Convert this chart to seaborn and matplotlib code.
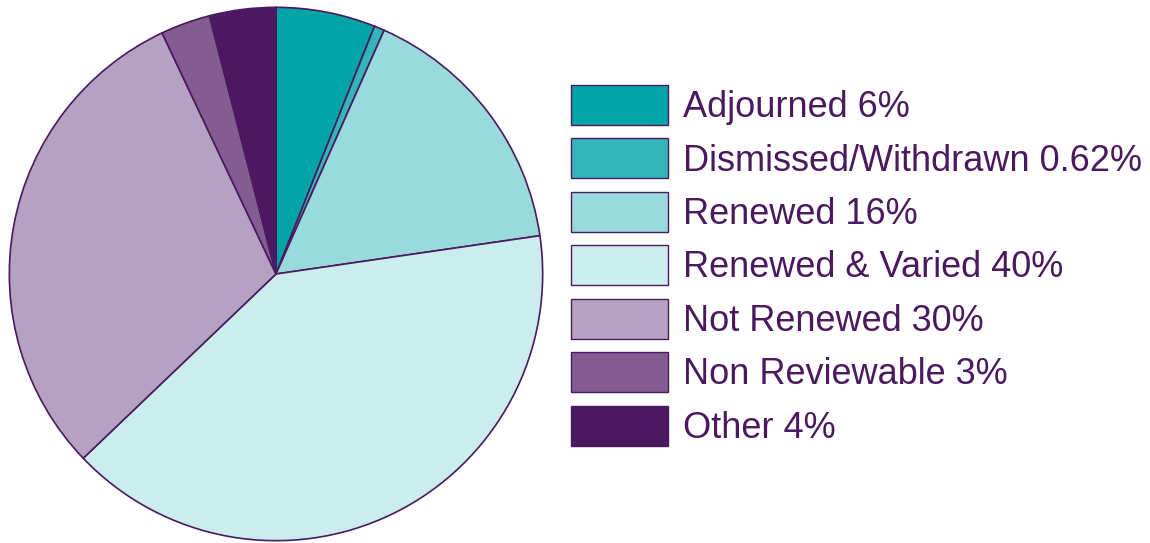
import matplotlib
matplotlib.use("Agg")
import matplotlib.pyplot as plt
import seaborn as sns
from matplotlib.patches import Patch

categories = ["Adjourned", "Dismissed/Withdrawn", "Renewed", "Renewed & Varied",
              "Not Renewed", "Non Reviewable", "Other"]
values = [6, 0.62, 16, 40, 30, 3, 4]
value_labels = ["6%", "0.62%", "16%", "40%", "30%", "3%", "4%"]
colors = ["#00A4A6", "#33B6B9", "#99DBDC", "#CCEDEE", "#B5A2C2", "#835C92", "#4A195F"]
edge = "#4A195F"

sns.set_theme(style="white")
plt.rcParams['font.family'] = ['Liberation Sans', 'DejaVu Sans']

W, H = 1150, 543
fig = plt.figure(figsize=(W / 100, H / 100), dpi=100)
cx, cy, r = 276, 274, 268
ax = fig.add_axes([(cx - r) / W, (H - cy - r) / H, 2 * r / W, 2 * r / H])
ax.pie(values, colors=colors, startangle=90, counterclock=False, radius=1,
       wedgeprops=dict(edgecolor=edge, linewidth=1.2))
ax.set_xlim(-1.005, 1.005)
ax.set_ylim(-1.005, 1.005)
ax.set_aspect("equal")
ax.axis("off")

fs = 26
fpx = fs * 100 / 72
box_h = 40
hh = (box_h / fpx - 0.245) / 0.65
handles = [Patch(facecolor=c, edgecolor=edge, linewidth=1.0) for c in colors]
labels = [f"{c} {v}" for c, v in zip(categories, value_labels)]
leg = fig.legend(handles, labels, loc="upper left",
                 bbox_to_anchor=(571 / W, 1 - 85 / H), frameon=False,
                 fontsize=fs, handlelength=97 / fpx, handleheight=hh,
                 labelspacing=13.4 / fpx, handletextpad=15 / fpx,
                 borderpad=0, borderaxespad=0, labelcolor=edge)

fig.savefig("out.png", dpi=100, facecolor="white")
